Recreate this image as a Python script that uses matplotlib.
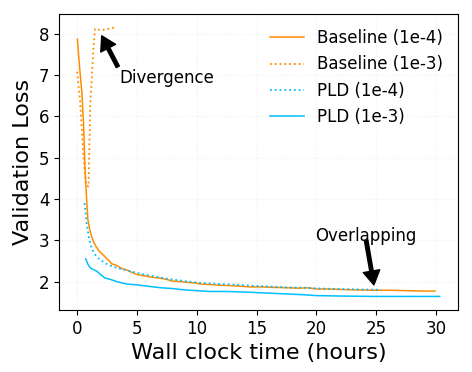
import numpy as np
import matplotlib
matplotlib.use('Agg')
import matplotlib.pyplot as plt

# ── Data ─────────────────────────────────────────────────────────────────────
base4_t = [0.02, 0.2, 0.39, 0.53, 0.65, 0.8, 0.9, 1.03, 1.2, 1.36, 1.6, 1.86, 2.2, 2.5, 2.9, 3.3, 3.7,
           4.15, 4.6, 5.0, 5.4, 5.8, 6.4, 7.0, 7.5, 8.0, 8.6, 9.2, 9.8, 10.3, 11.0, 12.0, 13.0,
           14.45, 15.5, 16.5, 17.5, 18.5, 19.3, 20.0, 21.0, 22.0, 23.0, 24.7, 26.0, 27.5, 29.0, 29.9]
base4_y = [7.87, 7.2, 6.6, 5.87, 4.8, 3.94, 3.5, 3.29, 3.1, 2.97, 2.84, 2.73, 2.64, 2.55, 2.43, 2.39, 2.32,
           2.28, 2.22, 2.17, 2.15, 2.13, 2.10, 2.08, 2.05, 2.01, 2.00, 1.98, 1.97, 1.94, 1.93, 1.91, 1.90,
           1.87, 1.87, 1.86, 1.85, 1.84, 1.85, 1.82, 1.82, 1.81, 1.80, 1.79, 1.79, 1.78, 1.77, 1.77]

base3_t = [0.0, 0.25, 0.5, 0.72, 0.95, 1.1, 1.35, 1.5, 1.8, 2.1, 2.5, 2.8, 3.1]
base3_y = [7.08, 6.36, 5.15, 4.35, 4.3, 6.3, 7.6, 8.12, 8.10, 8.09, 8.11, 8.13, 8.15]

pld4_t = [0.62, 0.8, 1.0, 1.2, 1.5, 1.9, 2.5, 3.3, 4.0, 5.0, 6.0, 7.5, 9.0, 10.3, 12.0, 13.5,
          14.45, 16.0, 17.5, 19.0, 20.5, 22.0, 23.5, 25.4]
pld4_y = [3.9, 3.39, 3.05, 2.81, 2.65, 2.53, 2.42, 2.33, 2.28, 2.21, 2.15, 2.07, 2.01, 1.97, 1.94, 1.92,
          1.90, 1.88, 1.86, 1.85, 1.83, 1.82, 1.81, 1.80]

pld3_t = [0.72, 0.9, 1.1, 1.3, 1.65, 2.0, 2.3, 2.8, 3.3, 3.7, 4.15, 5.0, 6.1, 7.0, 8.0, 8.9,
          10.0, 11.1, 12.5, 13.5, 14.45, 16.0, 17.5, 19.0, 20.0, 22.0, 24.75, 27.0, 29.0, 30.3]
pld3_y = [2.55, 2.42, 2.33, 2.30, 2.25, 2.16, 2.09, 2.05, 2.00, 1.97, 1.94, 1.92, 1.88, 1.85, 1.83, 1.80,
          1.78, 1.76, 1.76, 1.75, 1.74, 1.72, 1.70, 1.68, 1.66, 1.65, 1.64, 1.64, 1.64, 1.64]

ORANGE = "#FF8C00"
BLUE = "#00BFFF"

# ── Plot ─────────────────────────────────────────────────────────────────────
fig = plt.figure(figsize=(4.72, 3.72), dpi=100)
ax = fig.add_axes([0.125, 0.167, 0.845, 0.795])

ax.plot(base4_t, base4_y, color=ORANGE, linestyle='-', linewidth=1.1, label="Baseline (1e-4)")
ax.plot(base3_t, base3_y, color=ORANGE, linestyle=':', linewidth=1.3, label="Baseline (1e-3)")
ax.plot(pld4_t, pld4_y, color=BLUE, linestyle=':', linewidth=1.3, label="PLD (1e-4)")
ax.plot(pld3_t, pld3_y, color=BLUE, linestyle='-', linewidth=1.1, label="PLD (1e-3)")

arrow = dict(facecolor='black', edgecolor='black', width=2.5, headwidth=12, headlength=10)
ax.annotate("", xy=(2.06, 7.95), xytext=(3.4, 7.2), arrowprops=arrow)
ax.text(3.5, 6.92, "Divergence", fontsize=12, ha='left', va='center')
ax.annotate("", xy=(24.8, 1.92), xytext=(24.15, 3.0), arrowprops=arrow)
ax.text(24.15, 3.11, "Overlapping", fontsize=12, ha='center', va='center')

ax.set_xlabel("Wall clock time (hours)", fontsize=16)
ax.set_ylabel("Validation Loss", fontsize=16)
ax.tick_params(labelsize=12)
ax.set_xticks([0, 5, 10, 15, 20, 25, 30])
ax.set_yticks([2, 3, 4, 5, 6, 7, 8])
ax.grid(True, linestyle=':', alpha=0.2)
ax.legend(fontsize=12, frameon=False, loc='upper right')

plt.savefig("out.png", dpi=100)
